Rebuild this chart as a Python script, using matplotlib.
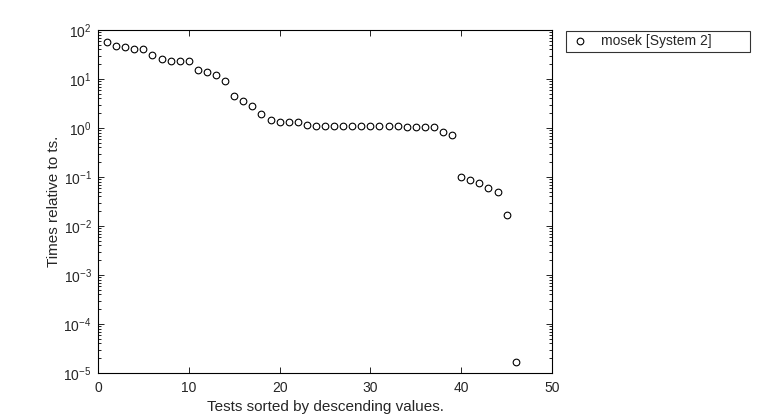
import matplotlib
matplotlib.use("Agg")
import matplotlib.pyplot as plt
from matplotlib.ticker import FixedLocator, LogLocator, NullFormatter, MultipleLocator

plt.rcParams['font.family'] = ['Liberation Sans', 'DejaVu Sans']
plt.rcParams['mathtext.fontset'] = 'custom'
plt.rcParams['mathtext.rm'] = 'Liberation Sans'
plt.rcParams['mathtext.it'] = 'Liberation Sans'
plt.rcParams['mathtext.default'] = 'regular'

tests = list(range(1, 47))
values = [57.7, 47.9, 45.6, 40.9, 40.9, 30.9, 25.9, 23.3, 22.9, 22.9,
          15.3, 13.7, 12.1, 9.1, 4.43, 3.61, 2.81, 1.96, 1.44, 1.31,
          1.31, 1.31, 1.15, 1.10, 1.10, 1.10, 1.10, 1.10, 1.10, 1.10,
          1.10, 1.10, 1.10, 1.06, 1.06, 1.06, 1.03, 0.83, 0.73, 0.100,
          0.087, 0.075, 0.0605, 0.050, 0.017, 1.7e-5]
series_label = "mosek [System 2]"
y_ticks = [1e-5, 1e-4, 1e-3, 1e-2, 1e-1, 1e0, 1e1, 1e2]

text_color = '#262626'

fig = plt.figure(figsize=(7.6, 4.2), dpi=100)
ax = fig.add_axes([98/760, 1-373/420, (552-98)/760, (373-30)/420])
ax.semilogy(tests, values, linestyle='none', marker='o', markersize=4.8,
            markerfacecolor='none', markeredgecolor='black', markeredgewidth=0.8,
            label=series_label)
ax.set_xlim(0, 50)
ax.set_ylim(1e-5, 1e2)
ax.xaxis.set_major_locator(MultipleLocator(10))
ax.yaxis.set_major_locator(FixedLocator(y_ticks))
ax.yaxis.set_minor_locator(LogLocator(base=10, subs=range(2, 10), numticks=20))
ax.yaxis.set_minor_formatter(NullFormatter())
ax.tick_params(which='both', direction='in', top=True, right=True, labelsize=10,
               width=0.6, labelcolor=text_color)
ax.tick_params(axis='x', which='major', pad=6)
ax.tick_params(axis='y', which='major', pad=4.5)
ax.tick_params(which='major', length=4)
ax.tick_params(which='minor', length=2.5)
for s in ax.spines.values():
    s.set_linewidth(0.8)
ax.set_xlabel("Tests sorted by descending values.", fontsize=11, labelpad=3, color=text_color)
ax.set_ylabel("Times relative to ts.", fontsize=11, labelpad=1.5, color=text_color)

leg = fig.legend(loc='upper left', bbox_to_anchor=(566/760, 1-52/420, 184/760, 21/420),
                 mode='expand', borderaxespad=0, fancybox=False, edgecolor='black',
                 fontsize=10, handlelength=1.5, handletextpad=0.8, borderpad=0.25)
leg.get_frame().set_linewidth(0.8)
for t in leg.get_texts():
    t.set_color(text_color)

fig.savefig("out.png", dpi=100)
